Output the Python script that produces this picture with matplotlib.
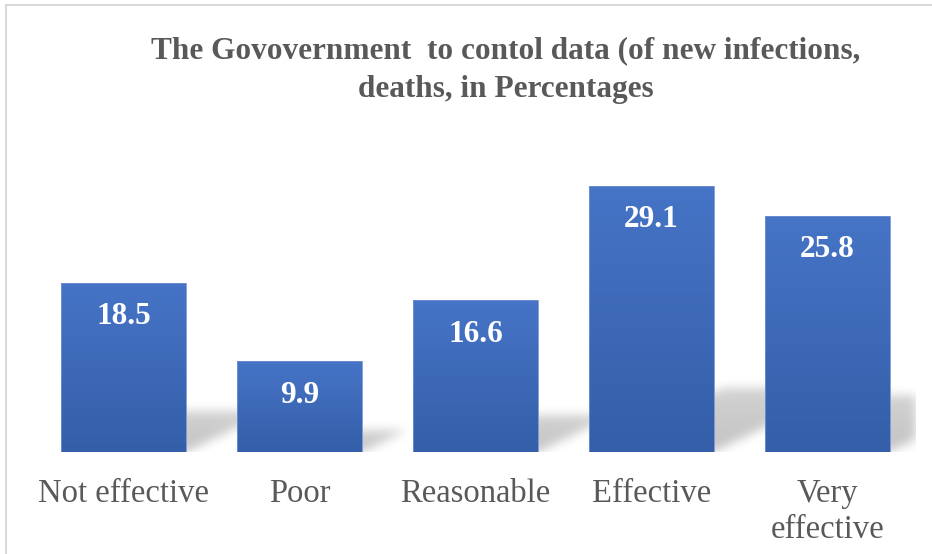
import numpy as np
import matplotlib
matplotlib.use("Agg")
import matplotlib.pyplot as plt
from matplotlib.colors import LinearSegmentedColormap
from matplotlib.patches import Rectangle

categories = ["Not effective", "Poor", "Reasonable", "Effective", "Very\neffective"]
values = [18.5, 9.9, 16.6, 29.1, 25.8]
title = "The Govovernment  to contol data (of new infections,\ndeaths, in Percentages"

SERIF = ["Liberation Serif", "DejaVu Serif"]
plt.rcParams["font.family"] = SERIF
TEXT_GRAY = "#595959"
BAR_TOP = "#4674c6"
BAR_BOTTOM = "#345ea8"
BAR_WIDTH = 0.71

W, H = 932, 554
fig = plt.figure(figsize=(W / 100, H / 100), dpi=100)
fig.patch.set_facecolor("white")

# plot area in pixels
ax_l, ax_b, ax_w, ax_h = 35.5, 102, 880, 320
ax = fig.add_axes([ax_l / W, ax_b / H, ax_w / W, ax_h / H])
xlim = (-0.5, len(values) - 0.5)
ylim = (0, 35)
ax.set_xlim(*xlim)
ax.set_ylim(*ylim)
ax.set_facecolor("none")
for s in ax.spines.values():
    s.set_visible(False)
ax.set_yticks([])

x = np.arange(len(values))

# soft perspective shadows: each bar throws a short skewed shadow backwards
px_per_x = ax_w / (xlim[1] - xlim[0])
px_per_y = ax_h / (ylim[1] - ylim[0])
nx, ny = int(ax_w), int(ax_h)
gx = np.linspace(xlim[0], xlim[1], nx)
gy = np.linspace(ylim[0], ylim[1], ny)
XX, YY = np.meshgrid(gx, gy)
mask = np.zeros_like(XX)
for xi, v in zip(x, values):
    left, right = xi - BAR_WIDTH / 2, xi + BAR_WIDTH / 2
    sh = 0.24 * v                                  # shadow height, data units
    skew = 2.1 * sh * px_per_y / px_per_x          # horizontal reach, data units
    t = YY / sh
    shift = skew * t
    inside = (YY >= 0) & (YY <= sh) & (XX >= left + shift) & (XX <= right + shift)
    fade = np.clip(1.0 - 0.25 * t, 0, 1)
    mask = np.maximum(mask, inside * fade)


def gauss_blur(img, sigma):
    r = int(3 * sigma)
    k = np.exp(-0.5 * (np.arange(-r, r + 1) / sigma) ** 2)
    k /= k.sum()
    img = np.apply_along_axis(lambda m: np.convolve(m, k, mode="same"), 0, img)
    img = np.apply_along_axis(lambda m: np.convolve(m, k, mode="same"), 1, img)
    return img


mask = gauss_blur(mask, 5.0)
shadow = np.zeros((ny, nx, 4))
shadow[..., 3] = mask * 0.24
ax.imshow(shadow, extent=(*xlim, *ylim), origin="lower", aspect="auto",
          zorder=1, interpolation="bilinear")

# bars with vertical gradient fill
cmap = LinearSegmentedColormap.from_list("bar", [BAR_BOTTOM, BAR_TOP])
bars = ax.bar(x, values, width=BAR_WIDTH, color="none", edgecolor="#7393d2",
              linewidth=0.6, zorder=3)
grad = np.linspace(0, 1, 256).reshape(-1, 1)
for b, v in zip(bars, values):
    im = ax.imshow(grad, cmap=cmap, origin="lower", aspect="auto",
                   extent=(b.get_x(), b.get_x() + b.get_width(), 0, v), zorder=2)
    im.set_clip_path(b)
ax.set_xlim(*xlim)
ax.set_ylim(*ylim)

# value labels inside the top of each bar
for xi, v in zip(x, values):
    ax.text(xi, v - 3.7, f"{v}", ha="center", va="center", color="white",
            fontsize=22.5, fontweight="bold", family=SERIF, zorder=4)

ax.set_xticks(x)
ax.set_xticklabels(categories, fontsize=23.5, color=TEXT_GRAY, family=SERIF,
                   linespacing=1.22)
ax.tick_params(axis="x", length=0, pad=19)

fig.text(506 / W, 1 - 70 / H, title, ha="center", va="center", fontsize=22.5,
         fontweight="bold", color=TEXT_GRAY, family=SERIF, linespacing=1.42)

# chart frame
fig.add_artist(Rectangle((6 / W, -0.2), 1.2, 1.2 - 5 / H, transform=fig.transFigure,
                         fill=False, edgecolor="#d9d9d9", linewidth=1.5, zorder=0))

fig.savefig("out.png", dpi=100, facecolor="white")
